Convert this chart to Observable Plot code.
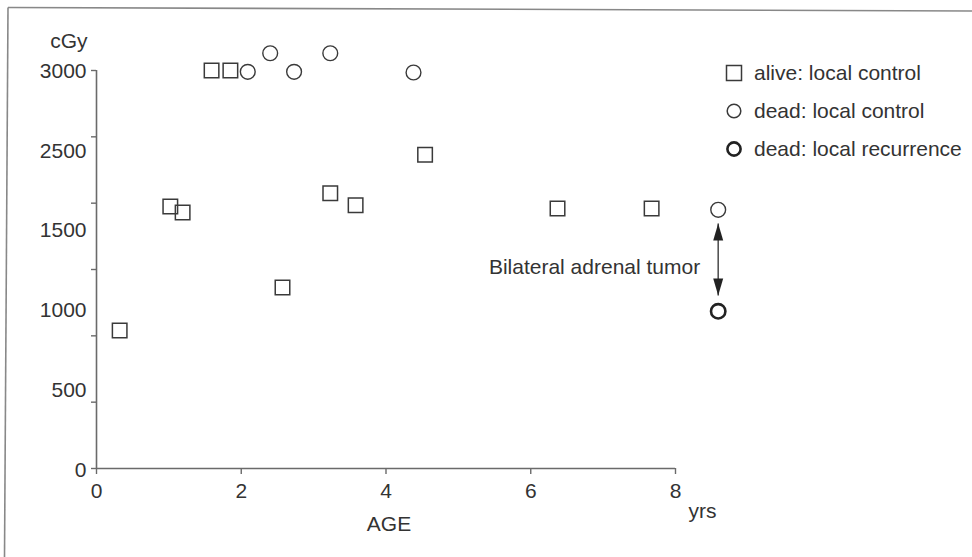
<!DOCTYPE html>
<html>
<head>
<meta charset="utf-8">
<script src="https://cdn.jsdelivr.net/npm/d3@7"></script>
<script src="https://cdn.jsdelivr.net/npm/@observablehq/plot@0.6"></script>
<style>
  body { margin: 0; background: #fff; }
  #wrap { position: relative; width: 972px; height: 557px; overflow: hidden; background: #fff;
          font-family: "Liberation Sans", Arial, Helvetica, sans-serif; color: #333; }
  #chart { position: absolute; left: 0; top: 0; }
  #border { position: absolute; left: 0; top: 0; pointer-events: none; }
  #legend { position: absolute; left: 724px; top: 54px; font-size: 21px; color: #333; }
  #legend .row { display: flex; align-items: center; height: 38px; }
  #legend svg { width: 20px; height: 20px; margin-right: 10px; flex: none; }
</style>
</head>
<body>
<div id="wrap">
  <div id="chart"></div>
  <svg id="border" width="972" height="557">
    <line x1="8" y1="7.5" x2="972" y2="11" stroke="#888" stroke-width="1.6"/>
    <line x1="8" y1="7.5" x2="4.5" y2="557" stroke="#888" stroke-width="1.6"/>
  </svg>
  <div id="legend"></div>
</div>
<script>
// ---- data ----
const aliveAge  = [0.32, 1.02, 1.19, 1.59, 1.85, 2.57, 3.23, 3.58, 4.54, 6.37, 7.67];
const aliveDose = [1040, 1975, 1930, 3000, 3000, 1365, 2075, 1985, 2365, 1960, 1960];
const deadAge   = [2.09, 2.40, 2.73, 3.23, 4.38, 8.59];
const deadDose  = [2990, 3130, 2990, 3130, 2985, 1950];
const recurAge  = [8.59];
const recurDose = [1185];

const xTicks = [0, 2, 4, 6, 8];
const yTicks = [0, 500, 1000, 1500, 2000, 2500, 3000];
const yLabels = ["0", "500", "1000", "1500", "2500", "3000"];
const yLabelAt = [-15, 590, 1190, 1795, 2390, 2992];

const legendLabels = ["alive: local control", "dead: local control", "dead: local recurrence"];
const annotText = ["Bilateral adrenal tumor"];
const arrowAge = [8.59];
const arrowTop = [1847];
const arrowBottom = [1304];
const annotDose = [1520];

// ---- tables ----
const alive = aliveAge.map((a, i) => ({age: a, dose: aliveDose[i]}));
const dead  = deadAge.map((a, i) => ({age: a, dose: deadDose[i]}));
const recur = recurAge.map((a, i) => ({age: a, dose: recurDose[i]}));
const arrows = arrowAge.map((a, i) => ({age: a, top: arrowTop[i], bottom: arrowBottom[i]}));
const annots = annotText.map((t, i) => ({age: arrowAge[i], dose: annotDose[i], text: t}));

const upHead = {draw(ctx) { ctx.moveTo(0, 0); ctx.lineTo(5, 17); ctx.lineTo(-5, 17); ctx.closePath(); }};
const downHead = {draw(ctx) { ctx.moveTo(0, 0); ctx.lineTo(5, -17); ctx.lineTo(-5, -17); ctx.closePath(); }};

const ink = "#3a3a3a";
const axisInk = "#6a6a6a";

const chart = Plot.plot({
  width: 972,
  height: 557,
  marginLeft: 96,
  marginRight: 297,
  marginTop: 70,
  marginBottom: 89,
  x: {domain: [0, 8]},
  y: {domain: [0, 3000]},
  style: {
    fontFamily: '"Liberation Sans", Arial, Helvetica, sans-serif',
    fontSize: "21px",
    color: "#333",
    background: "transparent",
    overflow: "visible"
  },
  marks: [
    Plot.ruleY([0], {stroke: axisInk, strokeWidth: 1.6}),
    Plot.ruleX([0], {stroke: axisInk, strokeWidth: 1.6}),
    Plot.axisX({ticks: xTicks, tickSize: 6, tickPadding: 9, label: null, stroke: axisInk, fill: "#333", strokeWidth: 1.4}),
    Plot.axisY({ticks: yTicks, tickSize: 5, tickFormat: () => "", label: null, stroke: axisInk, strokeWidth: 1.4}),
    Plot.axisY({ticks: yLabelAt, tickSize: 0, tickPadding: 10, label: null, fill: "#333",
                tickFormat: d => yLabels[yLabelAt.indexOf(d)]}),
    Plot.text(["cGy"], {text: d => d, frameAnchor: "top-left", textAnchor: "end", lineAnchor: "middle", dx: -9, dy: -29, fill: "#333"}),
    Plot.text(["AGE"], {text: d => d, frameAnchor: "bottom", textAnchor: "middle", lineAnchor: "middle", dx: 3, dy: 56, fill: "#333"}),
    Plot.text(["yrs"], {text: d => d, frameAnchor: "bottom-right", textAnchor: "start", lineAnchor: "middle", dx: 13, dy: 43, fill: "#333"}),
    Plot.dot(alive, {x: "age", y: "dose", symbol: "square", r: 8.2, fill: "none", stroke: ink, strokeWidth: 1.5}),
    Plot.dot(dead, {x: "age", y: "dose", symbol: "circle", r: 7.4, fill: "none", stroke: ink, strokeWidth: 1.4}),
    Plot.dot(recur, {x: "age", y: "dose", symbol: "circle", r: 7.2, fill: "none", stroke: "#222", strokeWidth: 2.6}),
    Plot.link(arrows, {x1: "age", x2: "age", y1: "top", y2: "bottom", stroke: "#555", strokeWidth: 1.6}),
    Plot.dot(arrows, {x: "age", y: "top", symbol: upHead, fill: "#222", stroke: "none", r: 5}),
    Plot.dot(arrows, {x: "age", y: "bottom", symbol: downHead, fill: "#222", stroke: "none", r: 5}),
    Plot.text(annots, {x: "age", y: "dose", text: "text", textAnchor: "end", lineAnchor: "middle", dx: -18, fill: "#333"})
  ]
});
document.getElementById("chart").appendChild(chart);

// ---- legend ----
const symbolsSvg = [
  '<rect x="2.5" y="2.5" width="15" height="15" fill="none" stroke="' + ink + '" stroke-width="1.5"/>',
  '<circle cx="10" cy="10" r="6.8" fill="none" stroke="' + ink + '" stroke-width="1.5"/>',
  '<circle cx="10" cy="10" r="6.6" fill="none" stroke="#222" stroke-width="2.6"/>'
];
const legend = document.getElementById("legend");
legendLabels.forEach((lab, i) => {
  const row = document.createElement("div");
  row.className = "row";
  row.innerHTML = '<svg viewBox="0 0 20 20">' + symbolsSvg[i] + '</svg><span>' + lab + '</span>';
  legend.appendChild(row);
});
</script>
</body>
</html>
